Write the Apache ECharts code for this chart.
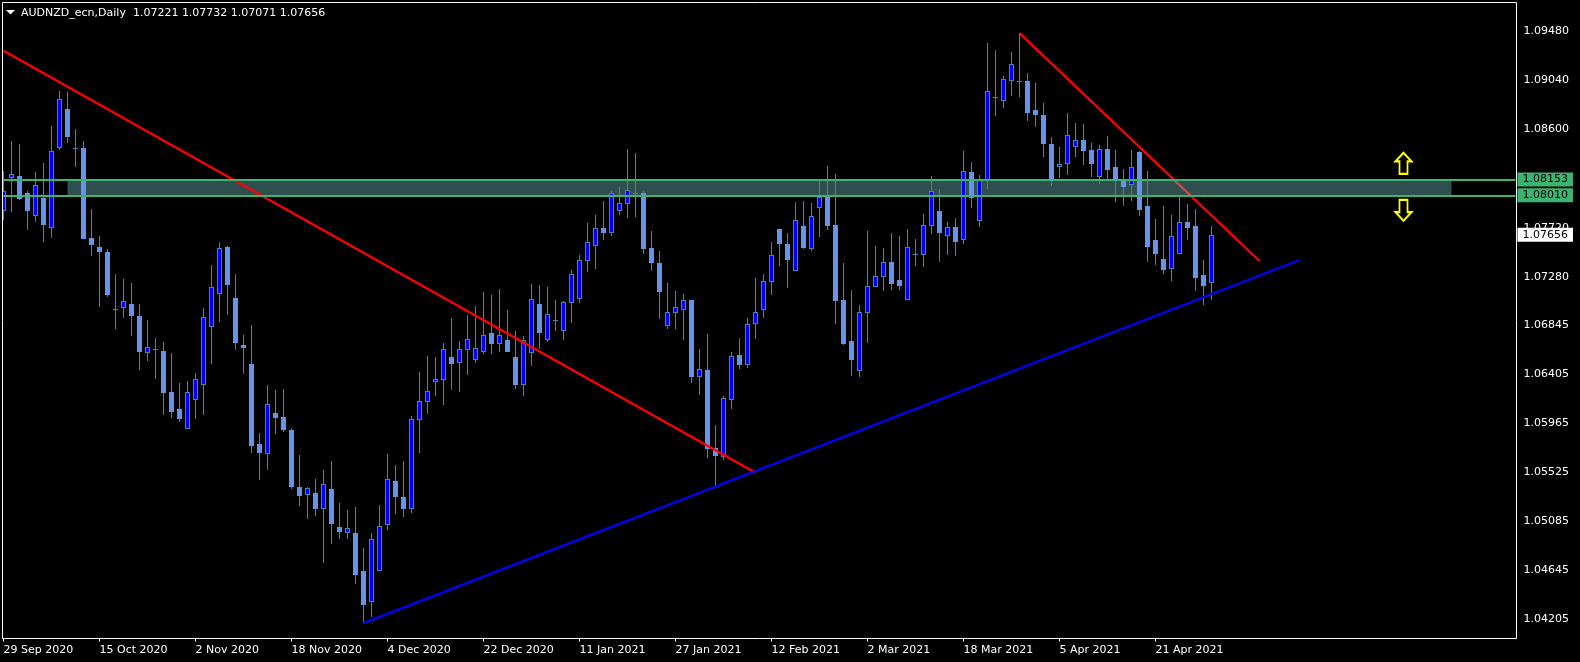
<!DOCTYPE html>
<html>
<head>
<meta charset="utf-8">
<title>AUDNZD_ecn,Daily</title>
<script src="https://cdn.jsdelivr.net/npm/echarts@6/dist/echarts.min.js"></script>
<style>
  html, body { margin: 0; padding: 0; background: #000; }
  #chart { width: 1580px; height: 662px; }
</style>
</head>
<body>
<div id="chart"></div>
<script>
const opens = [
  1.07872,1.08163,1.08184,1.08028,1.07827,1.07986,1.07720,1.08438,1.08785,1.08432,
  1.08435,1.07627,1.07546,1.07502,1.06993,1.07002,1.07035,1.06927,1.06598,1.06627,
  1.06613,1.06245,1.06093,1.05916,1.06176,1.06311,1.06831,1.07127,1.07546,1.07089,
  1.06667,1.06497,1.05779,1.05691,1.06057,1.06021,1.05904,1.05393,1.05324,1.05339,
  1.05198,1.05375,1.05034,1.04983,1.04980,1.04639,1.04363,1.04642,1.05054,1.05446,
  1.05303,1.05198,1.05991,1.06158,1.06338,1.06356,1.06559,1.06508,1.06625,1.06535,
  1.06607,1.06775,1.06679,1.06712,1.06559,1.06308,1.06598,1.07035,1.06715,1.06890,
  1.06795,1.07047,1.07083,1.07424,1.07558,1.07717,1.07675,1.07872,1.07935,1.08031,
  1.08031,1.07537,1.07403,1.06840,1.06957,1.06984,1.07071,1.06383,1.06443,1.05743,
  1.05665,1.06176,1.06577,1.06490,1.06858,1.06984,1.07235,1.07708,1.07573,1.07334,
  1.07735,1.07531,1.07899,1.08013,1.07744,1.07071,1.06703,1.06436,1.06957,1.07190,
  1.07280,1.07412,1.07250,1.07074,1.07483,1.07477,1.07738,1.07869,1.07648,1.07726,
  1.07612,1.08220,1.07782,1.08136,1.08892,1.08859,1.09039,1.09035,1.09036,1.08776,
  1.08731,1.08471,1.08267,1.08294,1.08447,1.08507,1.08417,1.08177,1.08426,1.08264,
  1.08139,1.08105,1.08399,1.07914,1.07609,1.07439,1.07352,1.07486,1.07771,1.07735,
  1.07295,1.07221,
]
const closes = [
  1.08052,1.08199,1.07974,1.07872,1.08100,1.07744,1.08405,1.08872,1.08534,1.08429,
  1.07618,1.07564,1.07502,1.07116,1.06988,1.07059,1.06927,1.06604,1.06646,1.06618,
  1.06236,1.06066,1.06003,1.06245,1.06359,1.06916,1.07185,1.07535,1.07205,1.06685,
  1.06640,1.05761,1.05698,1.06135,1.06012,1.05904,1.05393,1.05312,1.05381,1.05195,
  1.05417,1.05061,1.04989,1.05022,1.04603,1.04334,1.04923,1.05040,1.05462,1.05303,
  1.05195,1.06000,1.06162,1.06252,1.06359,1.06628,1.06497,1.06628,1.06718,1.06637,
  1.06754,1.06676,1.06754,1.06604,1.06308,1.06709,1.07077,1.06775,1.06943,1.06888,
  1.07050,1.07301,1.07427,1.07589,1.07714,1.07672,1.08031,1.07939,1.08055,1.08027,
  1.07529,1.07403,1.07143,1.06960,1.07005,1.07068,1.06380,1.06449,1.05734,1.05671,
  1.06189,1.06566,1.06487,1.06853,1.06960,1.07239,1.07472,1.07573,1.07430,1.07786,
  1.07537,1.07822,1.07992,1.07735,1.07062,1.06676,1.06532,1.06960,1.07194,1.07283,
  1.07409,1.07214,1.07196,1.07544,1.07479,1.07741,1.08046,1.07672,1.07723,1.07591,
  1.08226,1.07986,1.08145,1.08944,1.08888,1.09051,1.09186,1.09031,1.08749,1.08731,
  1.08471,1.08139,1.08289,1.08549,1.08504,1.08408,1.08291,1.08423,1.08237,1.08157,
  1.08085,1.08262,1.07878,1.07546,1.07484,1.07340,1.07642,1.07768,1.07717,1.07268,
  1.07196,1.07656,
]
const highs = [
  1.08228,1.08498,1.08471,1.08049,1.08220,1.08300,1.08632,1.08946,1.08937,1.08605,
  1.08498,1.07887,1.07645,1.07529,1.07304,1.07259,1.07223,1.07035,1.06891,1.06730,
  1.06694,1.06595,1.06326,1.06344,1.06416,1.06999,1.07385,1.07591,1.07555,1.07304,
  1.06757,1.06846,1.05877,1.06308,1.06263,1.06272,1.05922,1.05680,1.05393,1.05464,
  1.05545,1.05626,1.05249,1.05186,1.05213,1.04845,1.04980,1.05231,1.05689,1.05590,
  1.05626,1.06030,1.06425,1.06568,1.06559,1.06685,1.06909,1.06703,1.06936,1.07017,
  1.07143,1.07116,1.07170,1.06981,1.06793,1.06748,1.07214,1.07205,1.07188,1.07071,
  1.07062,1.07340,1.07475,1.07762,1.07834,1.07959,1.08049,1.08085,1.08426,1.08390,
  1.08049,1.07690,1.07511,1.07223,1.07152,1.07125,1.07075,1.06631,1.06766,1.05949,
  1.06209,1.06604,1.06730,1.06909,1.07268,1.07304,1.07591,1.07712,1.07672,1.07950,
  1.07959,1.07941,1.08148,1.08273,1.08201,1.07403,1.07160,1.07026,1.07690,1.07555,
  1.07537,1.07672,1.07645,1.07708,1.07618,1.07843,1.08184,1.08067,1.07771,1.07807,
  1.08408,1.08309,1.08192,1.09377,1.09314,1.09081,1.09296,1.09467,1.09108,1.09018,
  1.08839,1.08534,1.08444,1.08749,1.08659,1.08650,1.08480,1.08462,1.08542,1.08417,
  1.08246,1.08417,1.08408,1.08228,1.07798,1.07914,1.07834,1.08013,1.07932,1.07887,
  1.07430,1.07732,
]
const lows = [
  1.07789,1.07860,1.07972,1.07699,1.07773,1.07594,1.07630,1.08420,1.08480,1.08264,
  1.07614,1.07466,1.07008,1.07098,1.06811,1.06909,1.06748,1.06443,1.06523,1.06362,
  1.06039,1.06012,1.05976,1.05913,1.06003,1.06039,1.06497,1.06876,1.06936,1.06622,
  1.06407,1.05698,1.05455,1.05545,1.05868,1.05886,1.05375,1.05222,1.05105,1.05132,
  1.04711,1.04881,1.04926,1.04926,1.04522,1.04172,1.04226,1.04639,1.05007,1.05150,
  1.05123,1.05159,1.05698,1.06048,1.06209,1.06129,1.06263,1.06245,1.06398,1.06505,
  1.06586,1.06586,1.06604,1.06600,1.06272,1.06209,1.06479,1.06631,1.06694,1.06793,
  1.06712,1.06864,1.07044,1.07322,1.07349,1.07609,1.07645,1.07834,1.07807,1.07816,
  1.07484,1.07331,1.06900,1.06811,1.06811,1.06712,1.06326,1.06218,1.05653,1.05393,
  1.05635,1.06093,1.06452,1.06461,1.06721,1.06909,1.07116,1.07376,1.07179,1.07331,
  1.07529,1.07511,1.07636,1.07699,1.06855,1.06667,1.06389,1.06380,1.06685,1.07188,
  1.07152,1.07160,1.07160,1.07071,1.07376,1.07367,1.07663,1.07412,1.07475,1.07466,
  1.07573,1.07896,1.07726,1.08067,1.08722,1.08794,1.08902,1.08893,1.08677,1.08623,
  1.08354,1.08094,1.08166,1.08192,1.08354,1.08282,1.08175,1.08112,1.08139,1.07950,
  1.07914,1.07959,1.07825,1.07412,1.07385,1.07304,1.07241,1.07484,1.07609,1.07152,
  1.07026,1.07071,
]

const yTicks = [1.04205,1.04645,1.05085,1.05525,1.05965,1.06405,1.06845,1.0728,1.0772,1.0816,1.086,1.0904,1.0948]
const xTickLabels = [
  '29 Sep 2020','15 Oct 2020','2 Nov 2020','18 Nov 2020','4 Dec 2020','22 Dec 2020','11 Jan 2021',
  '27 Jan 2021','12 Feb 2021','2 Mar 2021','18 Mar 2021','5 Apr 2021','21 Apr 2021',
]

// [bar index, price]
const downTrendLong = [[0, 1.09308], [94, 1.05521]]
const downTrendShort = [[127, 1.09467], [157, 1.07421]]
const upTrend = [[45, 1.04172], [162, 1.0743]]
const zoneTop = 1.08153
const zoneBottom = 1.0801
const lastPrice = 1.07656
const arrowUp = [[175, 1.08298]]
const arrowDown = [[175, 1.07876]]

const FONT = '"DejaVu Sans"'
const BAR_SLOTS = 190
const categories = Array.from({ length: BAR_SLOTS }, (_, i) =>
  i % 12 === 0 && xTickLabels[i / 12] ? xTickLabels[i / 12] : ''
)
const candles = opens.map((o, i) => [i, o, closes[i], lows[i], highs[i]])

function renderCandle(params, api) {
  const i = api.value(0)
  const o = api.coord([i, api.value(1)])
  const c = api.coord([i, api.value(2)])[1]
  const l = api.coord([i, api.value(3)])[1]
  const h = api.coord([i, api.value(4)])[1]
  const x = Math.floor(o[0])
  const top = Math.round(Math.min(o[1], c))
  const height = Math.max(1, Math.round(Math.max(o[1], c)) - top)
  const bull = api.value(2) >= api.value(1)
  const rect = (rx, ry, rw, rh, fill) => ({
    type: 'rect',
    shape: { x: rx, y: ry, width: rw, height: rh },
    style: { fill: fill },
  })
  const children = [rect(x, Math.round(h), 1, Math.max(1, Math.round(l) - Math.round(h)), '#4682B4')]
  if (height <= 1) {
    children.push(rect(x - 2, top, 5, 1, '#4682B4'))
  } else if (bull) {
    children.push(rect(x - 2, top, 5, height, '#4682B4'))
    if (height > 2) children.push(rect(x - 1, top + 1, 3, height - 2, '#0000FF'))
  } else {
    children.push(rect(x - 2, top, 5, height, '#6495ED'))
  }
  return { type: 'group', children: children }
}

const tagLabel = (bg) => ({
  show: true,
  position: 'end',
  distance: 2,
  formatter: (p) => p.value.toFixed(5),
  color: '#000',
  backgroundColor: bg,
  fontFamily: FONT,
  fontSize: 11,
  lineHeight: 12,
  padding: [2, 5, 0, 5],
})

const chart = echarts.init(document.getElementById('chart'), null, { renderer: 'canvas' })
chart.setOption({
  animation: false,
  backgroundColor: '#000',
  title: {
    text: 'AUDNZD_ecn,Daily  1.07221 1.07732 1.07071 1.07656',
    left: 21,
    top: 8,
    padding: 0,
    textStyle: { color: '#fff', fontFamily: FONT, fontSize: 11, fontWeight: 'normal' },
  },
  grid: { left: 3.5, top: 2.5, width: 1512, height: 636, containLabel: false, outerBoundsMode: 'none' },
  xAxis: {
    type: 'category',
    data: categories,
    boundaryGap: false,
    axisLine: { show: false },
    axisTick: { length: 3, lineStyle: { color: '#fff' }, interval: (i, v) => v !== '' },
    axisLabel: {
      color: '#fff',
      fontFamily: FONT,
      fontSize: 11,
      margin: 6,
      align: 'left',
      interval: (i, v) => v !== '',
      hideOverlap: false,
    },
    splitLine: { show: false },
  },
  yAxis: {
    type: 'value',
    position: 'right',
    offset: 1,
    min: 1.04033,
    max: 1.09741,
    scale: true,
    axisLine: { show: false },
    axisTick: { length: 3, lineStyle: { color: '#fff' }, customValues: yTicks.concat([lastPrice]) },
    axisLabel: {
      color: '#fff',
      fontFamily: FONT,
      fontSize: 11,
      margin: 7,
      padding: [2, 0, 0, 0],
      customValues: yTicks,
      formatter: (v) => v.toFixed(5),
    },
    splitLine: { show: false },
  },
  series: [
    {
      // sits under the zone fill, which is why it goes pale inside the band
      name: 'downTrendShort',
      type: 'line',
      z: 1,
      data: downTrendShort,
      symbol: 'none',
      silent: true,
      lineStyle: { color: '#FF0000', width: 2.4 },
    },
    {
      name: 'candles',
      type: 'custom',
      z: 3,
      clip: false,
      silent: true,
      data: candles,
      encode: { x: 0, y: [1, 2, 3, 4] },
      renderItem: renderCandle,
    },
    {
      name: 'downTrendLong',
      type: 'line',
      z: 4,
      data: downTrendLong,
      symbol: 'none',
      silent: true,
      lineStyle: { color: '#FF0000', width: 2.4 },
    },
    {
      name: 'upTrend',
      type: 'line',
      z: 4,
      data: upTrend,
      symbol: 'none',
      silent: true,
      lineStyle: { color: '#0000FF', width: 2.4 },
      markArea: {
        z: 2,
        silent: true,
        itemStyle: { color: 'rgba(118,198,198,0.4)' },
        data: [[{ xAxis: 8, yAxis: zoneTop }, { xAxis: 181, yAxis: zoneBottom }]],
      },
      markLine: {
        z: 5,
        silent: true,
        precision: 5,
        symbol: ['none', 'none'],
        lineStyle: { color: '#3CB371', width: 2, type: 'solid' },
        data: [
          { yAxis: zoneTop, label: tagLabel('#3CB371') },
          { yAxis: zoneBottom, label: tagLabel('#3CB371') },
          { yAxis: lastPrice, label: tagLabel('#fff'), lineStyle: { color: 'transparent', width: 0 } },
        ],
      },
    },
    {
      name: 'arrowUp',
      type: 'scatter',
      z: 6,
      silent: true,
      data: arrowUp,
      symbol: 'path://M9 0 L18 9.5 H13.5 V23 H4.5 V9.5 H0 Z',
      symbolSize: [16, 21],
      itemStyle: { color: '#000', borderColor: '#FFFF00', borderWidth: 2, opacity: 1 },
    },
    {
      name: 'arrowDown',
      type: 'scatter',
      z: 6,
      silent: true,
      data: arrowDown,
      symbol: 'path://M4.5 0 H13.5 V13.5 H18 L9 23 L0 13.5 H4.5 Z',
      symbolSize: [16, 21],
      itemStyle: { color: '#000', borderColor: '#FFFF00', borderWidth: 2, opacity: 1 },
    },
  ],
  graphic: [
    // window frame and the little dropdown triangle by the title
    { type: 'rect', z: 20, silent: true, shape: { x: 0, y: 0, width: 2, height: 662 }, style: { fill: '#000' } },
    {
      type: 'rect',
      z: 21,
      silent: true,
      shape: { x: 2.5, y: 2.5, width: 1514, height: 636 },
      style: { fill: 'transparent', stroke: '#fff', lineWidth: 1 },
    },
    {
      type: 'polygon',
      z: 21,
      silent: true,
      shape: { points: [[6, 10], [15, 10], [10.5, 14.5]] },
      style: { fill: '#fff' },
    },
  ],
})
</script>
</body>
</html>
